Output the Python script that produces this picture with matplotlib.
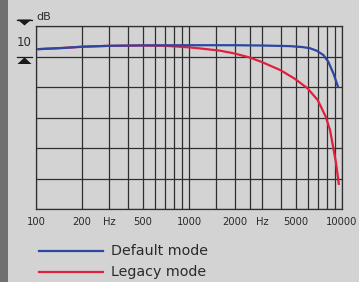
import matplotlib
matplotlib.use("Agg")
import matplotlib.pyplot as plt
from matplotlib.lines import Line2D
from matplotlib.patches import Polygon, Rectangle

# ---- data ----
default_freq = [102, 150, 200, 300, 500, 1000, 2000, 3000, 4570, 5500, 6180, 6830,
                7550, 8130, 8780, 9460]
default_db = [-7.6, -7.2, -6.8, -6.5, -6.35, -6.3, -6.3, -6.4, -6.6, -6.9, -7.3, -8.1,
              -9.5, -11.7, -15.5, -20.2]

legacy_freq = [102, 150, 200, 300, 500, 700, 873, 1000, 1180, 1600, 1980, 2480, 2990,
               3970, 4950, 5970, 6940, 7820, 8350, 8780, 9140, 9550]
legacy_db = [-7.6, -7.2, -6.8, -6.5, -6.4, -6.5, -6.8, -7.0, -7.35, -8.1, -9.0, -10.3,
             -11.8, -14.5, -17.4, -20.5, -24.3, -29.7, -34.1, -40.1, -44.9, -52.1]

grid_freqs = [100, 200, 300, 400, 500, 600, 700, 800, 900, 1000, 1500, 2000, 2500,
              3000, 4000, 5000, 6000, 7000, 8000, 9000, 10000]
grid_db = [0, -10, -20, -30, -40, -50, -60]
xtick_pos = [100, 200, 300, 500, 1000, 2000, 3000, 5000, 10000]
xtick_labels = ["100", "200", "Hz", "500", "1000", "2000", "Hz", "5000", "10000"]
series_names = ["Default mode", "Legacy mode"]
series_colors = ["#2b47a0", "#e0203c"]

W, H = 359, 282
fig = plt.figure(figsize=(W / 100, H / 100), dpi=100)
fig.patch.set_facecolor("#d3d3d3")

def fx(px):
    return px / W

def fy(py):
    return 1 - py / H

# left dark strip
fig.add_artist(Rectangle((0, 0), fx(8), 1, transform=fig.transFigure,
                         facecolor="#707070", edgecolor="none"))

ax = fig.add_axes([fx(36), fy(209), fx(342) - fx(36), fy(26) - fy(209)])
ax.set_facecolor("#d3d3d3")
ax.set_xscale("log")
ax.set_xlim(100, 10000)
ax.set_ylim(-60, 0)

gc = "#2e2e2e"
for f in grid_freqs:
    ax.axvline(f, color=gc, lw=0.9, zorder=1)
for d in grid_db:
    ax.axhline(d, color=gc, lw=0.9, zorder=1)
for s in ax.spines.values():
    s.set_color(gc)
    s.set_linewidth(0.9)

ax.plot(legacy_freq, legacy_db, color=series_colors[1], lw=1.6, zorder=3,
        solid_capstyle="butt", solid_joinstyle="round")
ax.plot(default_freq, default_db, color=series_colors[0], lw=1.6, zorder=4,
        solid_capstyle="butt", solid_joinstyle="round")

ax.set_xticks(xtick_pos)
ax.set_xticklabels(xtick_labels)
ax.xaxis.set_minor_locator(matplotlib.ticker.NullLocator())
ax.tick_params(axis="x", length=0, pad=6, labelsize=7.2, labelcolor="#2a2a2a")
ax.set_yticks([])

# dB label and 10 dB scale marker
tc = "#2a2a2a"
fig.text(fx(36), fy(17), "dB", fontsize=8, color=tc, va="center", ha="left")
fig.text(fx(24.5), fy(42), "10", fontsize=8.5, color=tc, va="center", ha="center")
fig.add_artist(Line2D([fx(17), fx(32)], [fy(19.5), fy(19.5)], transform=fig.transFigure,
                      color="#1a1a1a", lw=0.9))
fig.add_artist(Polygon([[fx(17.5), fy(19.5)], [fx(31.5), fy(19.5)], [fx(24.5), fy(25.5)]],
                       closed=True, transform=fig.transFigure, facecolor="#1a1a1a",
                       edgecolor="none"))
fig.add_artist(Line2D([fx(17), fx(32)], [fy(57), fy(57)], transform=fig.transFigure,
                      color="#1a1a1a", lw=0.9))
fig.add_artist(Polygon([[fx(24.5), fy(57.3)], [fx(17.5), fy(64)], [fx(31.5), fy(64)]],
                       closed=True, transform=fig.transFigure, facecolor="#1a1a1a",
                       edgecolor="none"))

# legend drawn manually
for i, (name, col) in enumerate(zip(series_names, series_colors)):
    yy = 251 + 21 * i
    fig.add_artist(Line2D([fx(39), fx(103)], [fy(yy), fy(yy)], transform=fig.transFigure,
                          color=col, lw=1.6))
    fig.text(fx(111), fy(yy), name, fontsize=10.3, color=tc, va="center", ha="left")

fig.savefig("out.png", dpi=100, facecolor=fig.get_facecolor())
